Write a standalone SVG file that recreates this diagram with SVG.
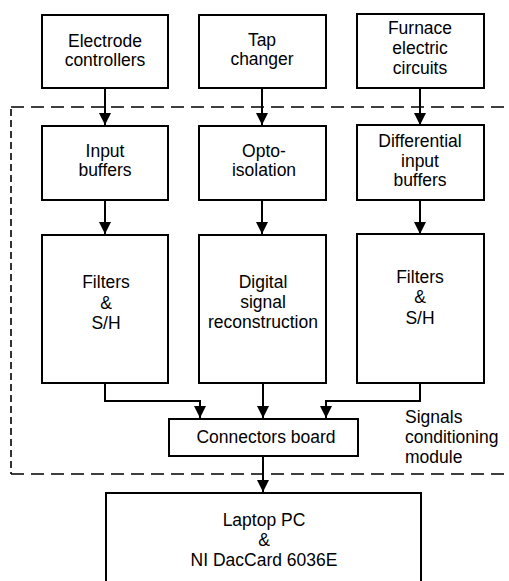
<svg xmlns="http://www.w3.org/2000/svg" width="509" height="581" viewBox="0 0 509 581">
<defs>
<marker id="ah" viewBox="0 0 12 12" refX="12" refY="6" markerWidth="12" markerHeight="12" markerUnits="userSpaceOnUse" orient="auto">
<path d="M0,0 L12,6 L0,12 Z" fill="#000"/>
</marker>
</defs>
<style>
.box{fill:#fff;stroke:#000;stroke-width:2}
text{font-family:"Liberation Sans",Arial,sans-serif;font-size:17.5px;fill:#000;text-anchor:middle}
.lbl{text-anchor:start}
.conn{fill:none;stroke:#000;stroke-width:2;marker-end:url(#ah)}
.dash{fill:none;stroke:#000;stroke-width:1.6}
</style>
<rect width="509" height="581" fill="#fff"/>
<g id="module-boundary">
<path class="dash" d="M11,107 H509" stroke-dasharray="13 7"/>
<path class="dash" d="M11,474 H509" stroke-dasharray="13 7"/>
<path class="dash" d="M11,109 V474" stroke-dasharray="7 4"/>
<text class="lbl" x="405" y="423">Signals</text>
<text class="lbl" x="405" y="443">conditioning</text>
<text class="lbl" x="405" y="463">module</text>
</g>
<g id="connectors">
<path class="conn" d="M105,88 V125"/>
<path class="conn" d="M262,88 V125"/>
<path class="conn" d="M420,88 V125"/>
<path class="conn" d="M105,200 V234"/>
<path class="conn" d="M262,200 V234"/>
<path class="conn" d="M420,200 V234"/>
<path class="conn" d="M105,383 V401 H200 V418"/>
<path class="conn" d="M263,383 V418"/>
<path class="conn" d="M420,383 V401 H326 V418"/>
<path class="conn" d="M263,456 V492"/>
</g>
<g id="electrode-controllers">
<rect class="box" x="42" y="15" width="126" height="73"/>
<text x="105" y="47">Electrode</text>
<text x="105" y="66">controllers</text>
</g>
<g id="tap-changer">
<rect class="box" x="199" y="15" width="127" height="73"/>
<text x="262" y="46">Tap</text>
<text x="262" y="65">changer</text>
</g>
<g id="furnace-circuits">
<rect class="box" x="357" y="14" width="127" height="74"/>
<text x="420" y="34">Furnace</text>
<text x="420" y="54">electric</text>
<text x="420" y="74">circuits</text>
</g>
<g id="input-buffers">
<rect class="box" x="42" y="126" width="126" height="74"/>
<text x="105" y="157">Input</text>
<text x="105" y="176">buffers</text>
</g>
<g id="opto-isolation">
<rect class="box" x="199" y="126" width="127" height="74"/>
<text x="264" y="157">Opto-</text>
<text x="264" y="176">isolation</text>
</g>
<g id="diff-input-buffers">
<rect class="box" x="357" y="125" width="127" height="75"/>
<text x="420" y="147">Differential</text>
<text x="420" y="167">input</text>
<text x="420" y="186">buffers</text>
</g>
<g id="filters-left">
<rect class="box" x="42" y="235" width="126" height="148"/>
<text x="106" y="288">Filters</text>
<text x="106" y="309">&amp;</text>
<text x="106" y="329">S/H</text>
</g>
<g id="digital-reconstruction">
<rect class="box" x="199" y="235" width="127" height="148"/>
<text x="263" y="288">Digital</text>
<text x="263" y="308">signal</text>
<text x="263" y="328">reconstruction</text>
</g>
<g id="filters-right">
<rect class="box" x="357" y="234" width="127" height="149"/>
<text x="420" y="283">Filters</text>
<text x="420" y="303">&amp;</text>
<text x="420" y="324">S/H</text>
</g>
<g id="connectors-board">
<rect class="box" x="169" y="419" width="189" height="37"/>
<text x="266" y="443">Connectors board</text>
</g>
<g id="laptop-pc">
<rect class="box" x="106" y="493" width="315" height="100"/>
<text x="264" y="526">Laptop PC</text>
<text x="264" y="546">&amp;</text>
<text x="264" y="566">NI DacCard 6036E</text>
</g>
</svg>
